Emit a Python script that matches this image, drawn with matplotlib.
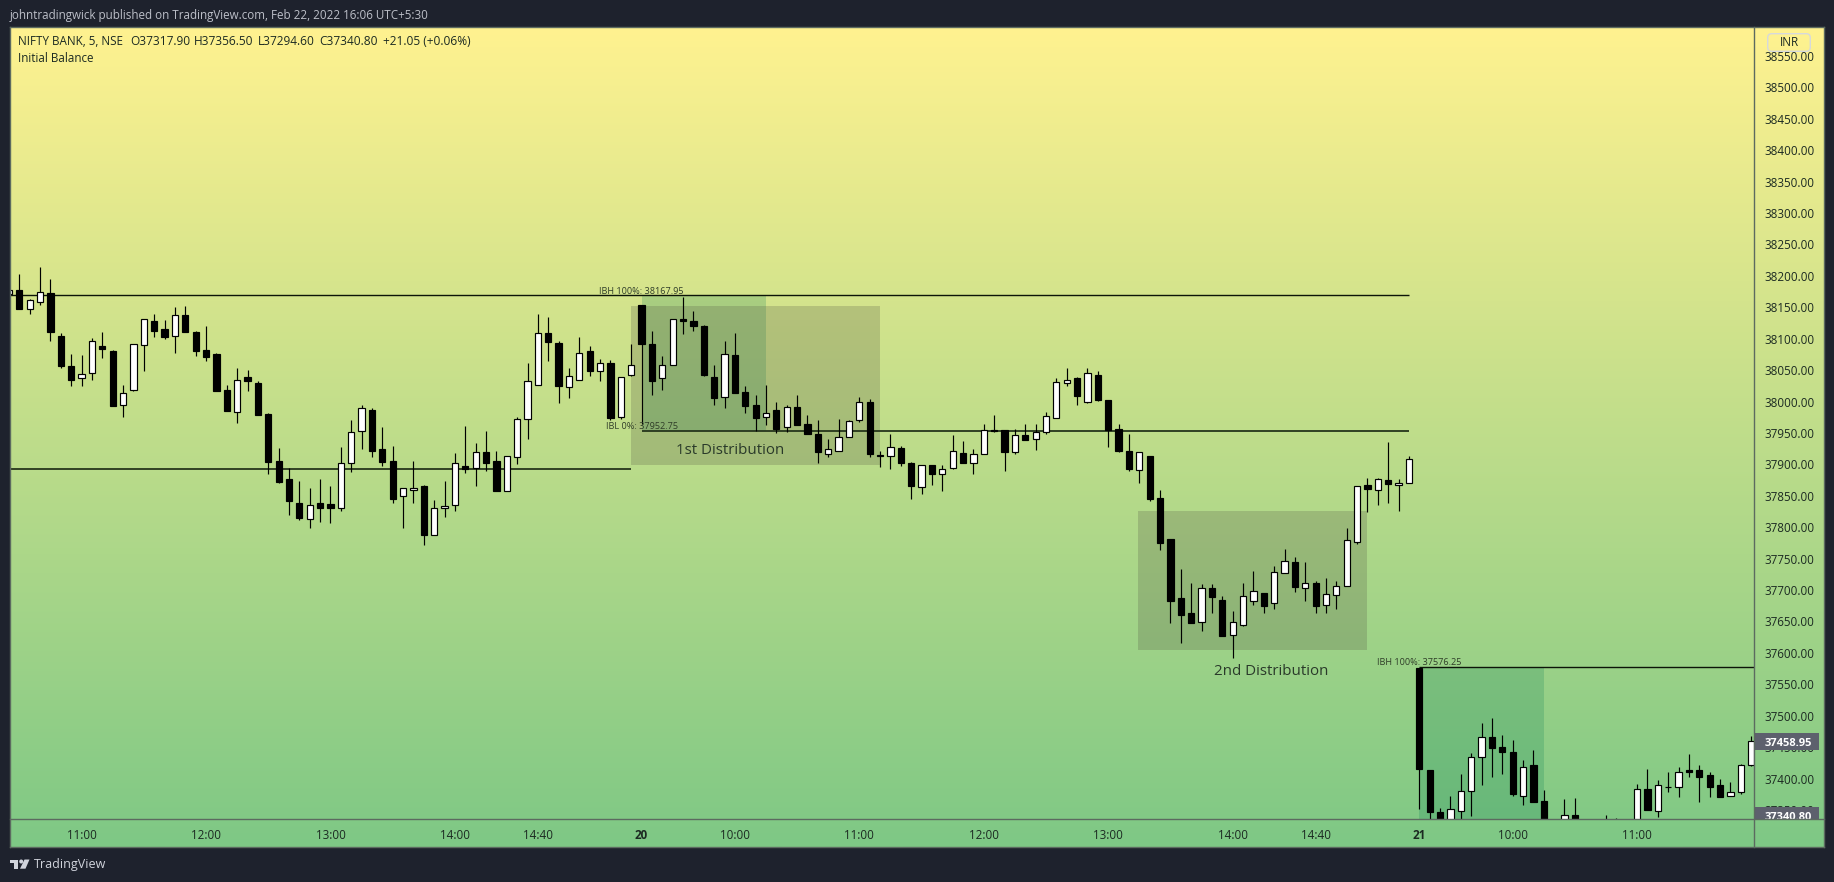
import matplotlib
matplotlib.use("Agg")
import numpy as np
import matplotlib.pyplot as plt
from matplotlib.patches import Rectangle, FancyBboxPatch, Polygon, Circle
from matplotlib.transforms import Affine2D, blended_transform_factory

opens = [
    38171,38177,38147,38159,38172,38105,38056,38037,38045,38088,
    38080,37994,38019,38090,38128,38115,38104,38137,38110,38082,
    38075,38018,37984,38039,38029,37980,37905,37876,37838,37813,
    37838,37837,37830,37903,37953,37986,37924,37906,37849,37859,
    37866,37787,37830,37835,37897,37894,37919,37905,37857,37911,
    37972,38027,38109,38093,38023,38035,38080,38049,38061,37976,
    38042,38153,38091,38037,38058,38131,38129,38121,38039,38007,
    38074,38015,37994,37975,37986,37959,37991,37964,37949,37916,
    37922,37943,37970,38000,37915,37913,37926,37903,37864,37899,
    37885,37895,37918,37902,37916,37955,37954,37920,37946,37940,
    37951,37974,38029,38037,38000,38042,38002,37956,37922,37891,
    37914,37846,37781,37688,37663,37649,37704,37684,37628,37645,
    37682,37696,37679,37727,37744,37704,37712,37676,37692,37706,
    37777,37868,37860,37875,37867,37871,37576,37413,37346,37322,
    37349,37380,37434,37466,37451,37443,37373,37421,37364,37325,
    37310,37342,37326,37308,37312,37326,37318,37318,37383,37349,
    37386,37386,37413,37413,37405,37389,37372,37378,37422]
highs = [
    38177,38203,38163,38214,38195,38109,38075,38074,38101,38110,
    38082,38026,38091,38131,38139,38130,38150,38152,38113,38121,
    38077,38026,38054,38051,38032,37982,37926,37894,37873,37862,
    37876,37866,37927,37970,37994,37989,37959,37930,37863,37905,
    37867,37843,37873,37918,37961,37934,37953,37921,37914,37976,
    38061,38139,38134,38096,38054,38102,38088,38067,38066,38039,
    38091,38153,38112,38072,38132,38167,38144,38122,38058,38096,
    38109,38024,38010,38027,37999,37994,38010,37978,37970,37941,
    37972,37970,38007,38004,37922,37948,37929,37904,37899,37899,
    37899,37946,37938,37924,37965,37978,37954,37956,37964,37965,
    37984,38037,38054,38039,38054,38048,38002,37965,37949,37919,
    37914,37859,37781,37733,37711,37709,37709,37690,37666,37712,
    37730,37696,37739,37765,37752,37744,37714,37719,37714,37798,
    37865,37878,37878,37935,37876,37913,37576,37413,37353,37373,
    37408,37440,37489,37496,37469,37461,37429,37445,37381,37328,
    37367,37369,37332,37330,37342,37337,37333,37391,37415,37397,
    37410,37418,37439,37421,37410,37400,37394,37423,37467]
lows = [
    38171,38148,38140,38154,38097,38054,38024,38025,38035,38070,
    37993,37976,38017,38048,38103,38100,38078,38110,38073,38065,
    38017,37985,37966,38017,37979,37884,37871,37820,37812,37798,
    37809,37807,37826,37888,37925,37912,37898,37838,37798,37838,
    37771,37787,37817,37826,37887,37865,37890,37857,37857,37901,
    37941,38027,38065,37998,38005,38035,38040,38033,37970,37972,
    38040,37965,38011,38019,38058,38108,38113,38040,37995,37990,
    38014,37982,37953,37962,37950,37952,37962,37949,37903,37911,
    37922,37943,37968,37912,37896,37893,37898,37845,37853,37868,
    37857,37893,37903,37884,37916,37951,37890,37916,37939,37923,
    37949,37974,38025,37995,37998,38001,37927,37919,37890,37871,
    37842,37764,37648,37615,37648,37635,37664,37627,37592,37642,
    37677,37664,37670,37727,37697,37683,37664,37664,37670,37706,
    37774,37825,37836,37839,37826,37871,37352,37325,37312,37315,
    37325,37341,37390,37403,37408,37373,37358,37363,37310,37298,
    37302,37306,37300,37298,37305,37306,37312,37312,37350,37338,
    37378,37370,37403,37363,37370,37371,37372,37376,37420]
closes = [
    38177,38148,38161,38174,38110,38057,38035,38044,38096,38083,
    37993,38014,38091,38131,38113,38102,38137,38111,38081,38071,
    38017,37985,38035,38033,37979,37904,37872,37841,37814,37836,
    37830,37830,37902,37951,37989,37922,37904,37845,37863,37863,
    37787,37830,37833,37902,37892,37920,37903,37857,37913,37973,
    38032,38109,38095,38024,38040,38078,38049,38061,37974,38039,
    38058,38092,38033,38058,38132,38129,38121,38043,38005,38075,
    38014,37993,37974,37982,37957,37992,37962,37949,37919,37925,
    37943,37969,37999,37917,37914,37927,37903,37865,37899,37885,
    37892,37921,37903,37916,37954,37953,37920,37946,37939,37952,
    37977,38031,38035,38009,38045,38003,37955,37922,37892,37919,
    37845,37775,37683,37661,37648,37704,37689,37627,37649,37690,
    37698,37675,37728,37746,37705,37711,37674,37693,37707,37779,
    37865,37861,37876,37869,37871,37908,37415,37346,37325,37351,
    37380,37434,37466,37449,37443,37376,37419,37363,37325,37305,
    37342,37318,37310,37320,37325,37314,37330,37383,37350,37389,
    37387,37411,37411,37403,37387,37371,37379,37421,37459]

price_ticks = [38550,38500,38450,38400,38350,38300,38250,38200,38150,38100,
               38050,38000,37950,37900,37850,37800,37750,37700,37650,37600,
               37550,37500,37450,37400,37350]
time_pos = [7,19,31,43,51,61,70,82,94,106,118,126,136,145,157]
time_labels = ["11:00","12:00","13:00","14:00","14:40","20","10:00","11:00",
               "12:00","13:00","14:00","14:40","21","10:00","11:00"]

# (bar_start, bar_end, price_low, price_high)
ib_zones = [(61, 73, 37953, 38170), (136, 148, 37300, 37577)]
dist_zones = [(60, 84, 37899, 38152), (108.9, 131, 37604, 37826)]
# (bar_start, bar_end, price)
ib_high_lines = [(0, 135, 38170), (136, 170, 37577)]
ib_low_lines = [(0, 60, 37892), (61, 135, 37953)]
last_prices = [37458.95, 37340.80]

FONT = "Open Sans"
W, H = 1834, 882
DARK = "#1e222d"
TXT = "#1c2a22"

fig = plt.figure(figsize=(W/100, H/100), dpi=100, facecolor=DARK)
px = Affine2D().scale(1/W, -1/H).translate(0, 1) + fig.transFigure
L, R, T, B = 10, 1754.3, 27, 819.3
PR, PB = 1824, 847

# gradient panel
bg = fig.add_axes([L/W, 1-PB/H, (PR-L)/W, (PB-T)/H], zorder=0)
top_c = np.array([255, 242, 144])/255
bot_c = np.array([126, 200, 133])/255
t = np.linspace(0, 1, 400)[:, None, None]
bg.imshow(top_c[None, None, :]*(1-t) + bot_c[None, None, :]*t, aspect="auto")
bg.axis("off")

ax = fig.add_axes([L/W, 1-B/H, (R-L)/W, (B-T)/H], zorder=1)
ax.patch.set_alpha(0)
ax.set_xlim((L-9)/10.37, (R-9)/10.37)
ax.set_ylim(38550-(B-56)/0.6283, 38550+(56-T)/0.6283)

for x0, x1, y0, y1 in ib_zones:
    ax.add_patch(Rectangle((x0, y0), x1-x0, y1-y0, fc=(0, 120/255, 80/255), alpha=0.2, lw=0, zorder=1))
for x0, x1, y0, y1 in dist_zones:
    ax.add_patch(Rectangle((x0, y0), x1-x0, y1-y0, fc="#505040", alpha=0.23, lw=0, zorder=1.1))
for x0, x1, p in ib_high_lines:
    ax.plot([x0, x1], [p, p], color="#0c1408", lw=1.0, zorder=2, solid_capstyle="butt")
for x0, x1, p in ib_low_lines:
    ax.plot([x0, x1], [p, p], color="#26351c", lw=1.3, zorder=2, solid_capstyle="butt")

xs = np.arange(len(opens))
o, h, l, c = map(np.array, (opens, highs, lows, closes))
up = c >= o
ax.vlines(xs, l, h, color="black", lw=0.85, zorder=3)
ax.bar(xs, np.abs(c-o), bottom=np.minimum(o, c), width=0.6,
       color=np.where(up, "white", "black"), edgecolor="black", linewidth=0.85, zorder=4)

ax.set_yticks(price_ticks)
ax.set_yticklabels([f"{p:.2f}" for p in price_ticks], fontfamily=FONT, fontsize=8.4, color=TXT)
ax.yaxis.tick_right()
ax.set_xticks(time_pos)
ax.set_xticklabels(time_labels, fontfamily=FONT, fontsize=8.4, color=TXT)
for lab, s in zip(ax.get_xticklabels(), time_labels):
    if len(s) == 2:
        lab.set_fontweight("bold")
ax.tick_params(axis="both", length=0)
ax.tick_params(axis="x", pad=7)
ax.tick_params(axis="y", pad=7)
for s in ("left", "right", "top", "bottom"):
    ax.spines[s].set_visible(False)

# panel borders and dividers
for (x0, y0, x1, y1) in [(L, T, PR, T), (L, T, L, PB), (L, PB, PR, PB), (PR, T, PR, PB),
                         (R, T, R, PB), (L, B, PR, B)]:
    fig.add_artist(plt.Line2D([x0, x1], [y0, y1], transform=px, color="#5c6a60", lw=1.0, zorder=6))

# price labels on the axis
bt = blended_transform_factory(ax.transAxes, ax.transData)
xr = (1818.7-L)/(R-L)
ymin = ax.get_ylim()[0]
clip = Rectangle((R, T), PR-R, B-T, transform=px)
for p in last_prices:
    lo = max(p-13.5, ymin)
    ax.add_patch(Rectangle((1.0, lo), xr-1.0, p+13.5-lo, transform=bt, fc="#5d606d", lw=0, clip_on=False, zorder=7))
    tx = ax.text((1788.5-L)/(R-L), p, f"{p:.2f}", transform=bt, ha="center", va="center_baseline", color="white",
                 fontfamily=FONT, fontsize=8.0, fontweight="bold", zorder=8, clip_on=True)
    tx.set_clip_path(clip)

def ptext(x, y, s, size=8.4, color=TXT, ha="left", family=FONT, **kw):
    return fig.text(x, y, s, transform=px, fontsize=size, color=color, ha=ha, va="center",
                    fontfamily=family, zorder=9, **kw)

ptext(9.9, 15, "johntradingwick published on TradingView.com, Feb 22, 2022 16:06 UTC+5:30", color="#bcbfc8")
ptext(18.2, 41.5, "NIFTY BANK, 5, NSE")
for x, s in [(130.5, "O37317.90"), (194.1, "H37356.50"),
             (257.8, "L37294.60"), (319.5, "C37340.80"), (382.8, "+21.05 (+0.06%)")]:
    ptext(x, 41.5, s, size=8.6)
ptext(18.2, 59, "Initial Balance")
ptext(1789, 42.5, "INR", ha="center")
fig.add_artist(FancyBboxPatch((1767.7, 33.7), 42.6, 17.6, boxstyle="round,pad=0,rounding_size=4",
               mutation_aspect=1, transform=px, fc="none", ec="#d6d9dc", lw=1.0, zorder=8))
ptext(1271, 671.7, "2nd Distribution", size=10.9, color="#2a3a2a", ha="center")
ptext(730.3, 451, "1st Distribution", size=10.9, color="#2a3a2a", ha="center")
ptext(599.3, 291.7, "IBH 100%: 38167.95", size=6.6, color="#2f3d28")
ptext(605.7, 426.7, "IBL 0%: 37952.75", size=6.6, color="#2f3d28")
ptext(1376.7, 662.3, "IBH 100%: 37576.25", size=6.6, color="#2f3d28")

# TradingView logo
logo = "#d1d4dc"
fig.add_artist(Polygon([(10, 859.5), (17.5, 859.5), (17.5, 868.7), (13.5, 868.7), (13.5, 863), (10, 863)],
               transform=px, fc=logo, lw=0))
fig.add_artist(Circle((21.2, 861.5), 2.0, transform=px, fc=logo, lw=0))
fig.add_artist(Polygon([(24.5, 859.5), (29.5, 859.5), (25.5, 868.7), (20, 868.7)], transform=px, fc=logo, lw=0))
ptext(34, 864.5, "TradingView", size=9.0, color=logo)

fig.savefig("out.png", dpi=100, facecolor=DARK)
